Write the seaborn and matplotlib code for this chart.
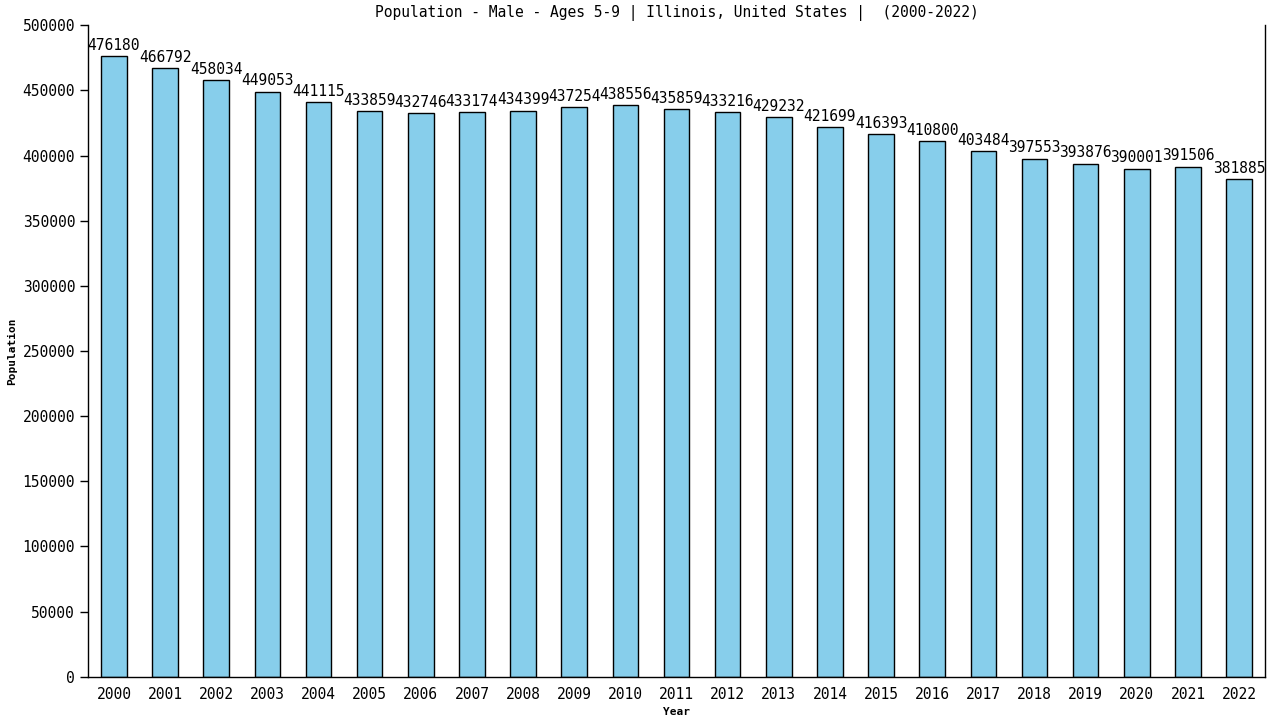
import matplotlib
matplotlib.use("Agg")
import matplotlib.pyplot as plt
import pandas as pd
import seaborn as sns

years = [str(y) for y in range(2000, 2023)]
population = [476180, 466792, 458034, 449053, 441115, 433859, 432746, 433174,
              434399, 437254, 438556, 435859, 433216, 429232, 421699, 416393,
              410800, 403484, 397553, 393876, 390001, 391506, 381885]

df = pd.DataFrame({"Year": years, "Population": population})

sns.set_style("white")
plt.rcParams["font.family"] = ["DejaVu Sans Mono"]
plt.rcParams["text.color"] = "black"
plt.rcParams["axes.labelcolor"] = "black"
plt.rcParams["xtick.color"] = "black"
plt.rcParams["ytick.color"] = "black"

fig, ax = plt.subplots(figsize=(12.8, 7.2), dpi=100)
fig.subplots_adjust(left=0.069, right=0.988, top=0.965, bottom=0.06)

sns.barplot(data=df, x="Year", y="Population", color="#87CEEB",
            edgecolor="black", linewidth=1, width=0.5, saturation=1, ax=ax)

for i, v in enumerate(population):
    ax.text(i, v + 2500, str(v), ha="center", va="bottom", fontsize=10.5)

ax.set_xlim(-0.5, len(years) - 0.5)
ax.set_ylim(0, 500000)
ax.set_yticks(range(0, 500001, 50000))
ax.tick_params(axis="y", left=True, length=6, width=1, labelsize=10.5)
ax.tick_params(axis="x", bottom=False, labelsize=10.5)
ax.set_xlabel("Year", fontsize=8, fontweight="bold")
ax.set_ylabel("Population", fontsize=8, fontweight="bold")
ax.set_title("Population - Male - Ages 5-9 | Illinois, United States |  (2000-2022)",
             fontsize=10.5, pad=6)

for side in ["left", "right", "bottom"]:
    ax.spines[side].set_color("black")
    ax.spines[side].set_linewidth(1)
ax.spines["top"].set_visible(False)

plt.savefig("out.png", dpi=100)
plt.close()
